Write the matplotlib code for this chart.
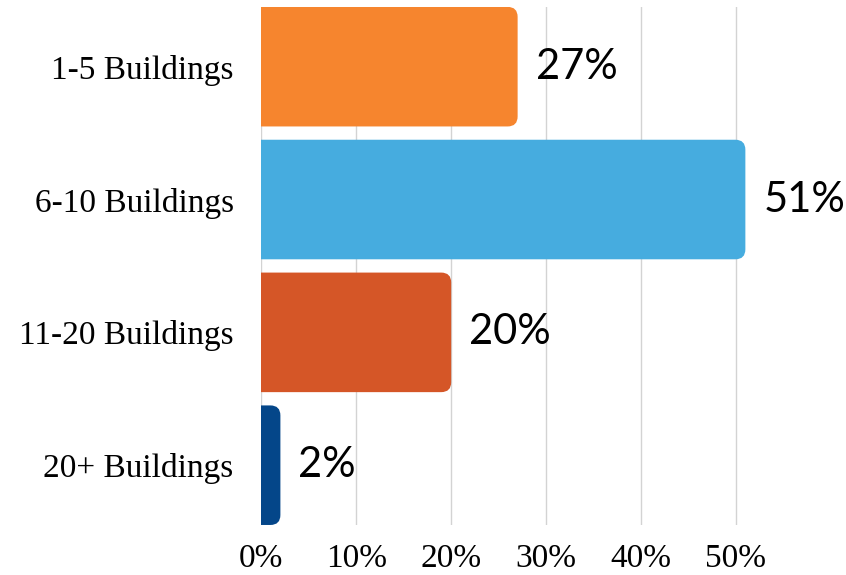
import matplotlib
matplotlib.use("Agg")
import matplotlib.pyplot as plt
from matplotlib.patches import FancyBboxPatch

categories = ["1-5 Buildings", "6-10 Buildings", "11-20 Buildings", "20+ Buildings"]
values = [27, 51, 20, 2]
colors = ["#F6852E", "#46ACDF", "#D55627", "#044689"]
xticks = [0, 10, 20, 30, 40, 50]
xtick_labels = ["0%", "10%", "20%", "30%", "40%", "50%"]

fig = plt.figure(figsize=(8.46, 5.75), dpi=100)
ax = fig.add_axes([0.309, 0.087, 0.673, 0.901])

bar_h = 0.9
xmax = 60
ax.set_xlim(0, xmax)
ax.set_ylim(len(categories) - 1 + bar_h / 2, -bar_h / 2)

# rounding radius ~10px
ax_w_px = 0.673 * 846
ax_h_px = 0.901 * 575
rx = 10 / ax_w_px * xmax
ry = 10 / ax_h_px * (len(categories) - 1 + bar_h)
aspect = ry / rx

for i, (v, c) in enumerate(zip(values, colors)):
    left = -5
    p = FancyBboxPatch((left, i - bar_h / 2), v - left, bar_h,
                       boxstyle=f"round,pad=0,rounding_size={rx}",
                       mutation_aspect=aspect, facecolor=c, edgecolor="none",
                       zorder=3)
    ax.add_patch(p)
    ax.annotate(f"{v}%", xy=(v, i), xytext=(13, 0), textcoords="offset points",
                ha="left", va="center", fontsize=30, family=["Lato", "DejaVu Sans"],
                color="black", annotation_clip=False, zorder=4)

ax.set_yticks(range(len(categories)))
ax.set_yticklabels(categories, family="Liberation Serif", fontsize=24)
ax.set_xticks(xticks)
ax.set_xticklabels(xtick_labels, family="Liberation Serif", fontsize=24)
ax.tick_params(axis="y", length=0, pad=20)
ax.tick_params(axis="x", length=0, pad=13)
ax.grid(axis="x", color="#d3d3d3", linewidth=1, zorder=0)
ax.set_axisbelow(True)
for s in ax.spines.values():
    s.set_visible(False)

fig.savefig("out.png", dpi=100)
